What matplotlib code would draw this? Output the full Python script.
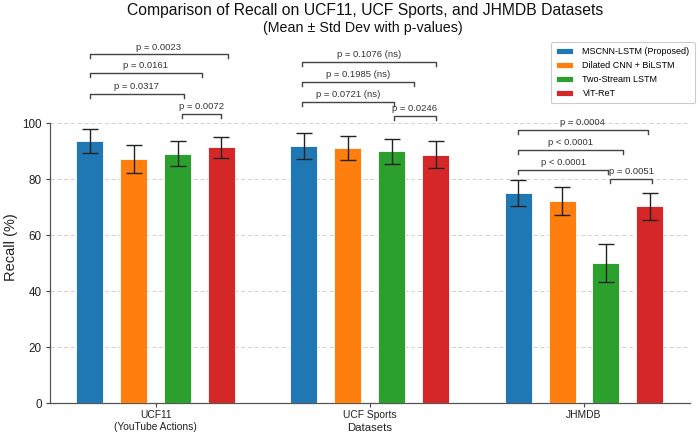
import matplotlib
matplotlib.use("Agg")
import matplotlib.pyplot as plt
import numpy as np

plt.rcParams['font.family'] = ['Liberation Sans', 'DejaVu Sans']

# ---------------- data ----------------
datasets = ["UCF11\n(YouTube Actions)", "UCF Sports", "JHMDB"]
models = ["MSCNN-LSTM (Proposed)", "Dilated CNN + BiLSTM", "Two-Stream LSTM", "ViT-ReT"]
colors = ["#1f77b4", "#ff7f0e", "#2ca02c", "#d62728"]

mscnn_mean = [93.7, 92.0, 75.1]
dilated_mean = [87.2, 91.2, 72.4]
twostream_mean = [89.2, 90.0, 50.2]
vitret_mean = [91.4, 88.7, 70.3]

mscnn_std = [4.4, 4.7, 4.7]
dilated_std = [5.0, 4.2, 5.0]
twostream_std = [4.5, 4.5, 6.8]
vitret_std = [3.7, 4.8, 4.8]

# significance brackets: dataset index, start bar, end bar (bar slots), height, label
br_group = [0, 0, 0, 0, 1, 1, 1, 1, 2, 2, 2, 2]
br_start = [0, 0, 0, 2.1, -0.05, -0.05, -0.05, 2.05, 0, 0, 0, 2.1]
br_end = [2.15, 2.55, 3.15, 3.0, 2.05, 2.5, 3.0, 3.0, 2.05, 2.4, 2.95, 3.05]
br_height = [110.6, 118.0, 124.6, 103.4, 107.6, 114.8, 121.8, 102.6, 83.3, 90.4, 97.6, 80.0]
br_label = ["p = 0.0317", "p = 0.0161", "p = 0.0023", "p = 0.0072",
            "p = 0.0721 (ns)", "p = 0.1985 (ns)", "p = 0.1076 (ns)", "p = 0.0246",
            "p < 0.0001", "p < 0.0001", "p = 0.0004", "p = 0.0051"]

means = [mscnn_mean, dilated_mean, twostream_mean, vitret_mean]
stds = [mscnn_std, dilated_std, twostream_std, vitret_std]

# ---------------- figure ----------------
fig = plt.figure(figsize=(7.0, 4.36), dpi=100)
ax = fig.add_axes([50/700, 1-403.3/436, 640/700, 364/436])

x = np.arange(len(datasets))
slot = 0.205
width = 0.126

for i, (m, s) in enumerate(zip(means, stds)):
    pos = x + (i - 1.5) * slot
    ax.bar(pos, m, width, color=colors[i], label=models[i], edgecolor="white",
           linewidth=0.6, zorder=3)
    ax.errorbar(pos, m, yerr=s, fmt="none", ecolor="#222222", elinewidth=1.0,
                capsize=5.5, capthick=1.0, zorder=4)

tick_h = 1.4
for g, a, b, h, lab in zip(br_group, br_start, br_end, br_height, br_label):
    xa = x[g] + (a - 1.5) * slot
    xb = x[g] + (b - 1.5) * slot
    ax.plot([xa, xa, xb, xb], [h - tick_h, h, h, h - tick_h], color="#444444",
            lw=1.0, zorder=5, clip_on=False)
    ax.text((xa + xb) / 2, h + 1.0, lab, ha="center", va="bottom",
            fontsize=6.8, color="#333333", zorder=5)

ax.set_xlim(-0.493, 2.495)
ax.set_ylim(0, 130)
ax.set_yticks([0, 20, 40, 60, 80, 100])
ax.set_xticks(x)
ax.set_xticklabels(datasets, fontsize=7.4, color="#222222")
ax.tick_params(axis="x", length=3, pad=2, color="#444444")
ax.tick_params(axis="y", length=3, pad=3, labelsize=8.4, color="#444444", labelcolor="#222222")

ax.yaxis.grid(True, linestyle=(0, (4, 3)), color="#d0d0d0", linewidth=0.7, zorder=0)
ax.set_axisbelow(True)
for side in ["top", "right"]:
    ax.spines[side].set_visible(False)
ax.spines["left"].set_bounds(0, 100)
ax.spines["left"].set_color("#555555")
ax.spines["bottom"].set_color("#555555")
ax.spines["left"].set_linewidth(0.9)
ax.spines["bottom"].set_linewidth(0.9)

ax.set_ylabel("Recall (%)", fontsize=10.5, color="#222222")
ax.yaxis.set_label_coords(-0.05, 0.43)
ax.set_xlabel("Datasets", fontsize=8.2, color="#222222")
ax.xaxis.set_label_coords(0.5, -0.055)

fig.text(365/700, 1 - 10.5/436, "Comparison of Recall on UCF11, UCF Sports, and JHMDB Datasets",
         ha="center", va="center", fontsize=11.3, color="#111111")
fig.text(363/700, 1 - 28/436, "(Mean \u00b1 Std Dev with p-values)",
         ha="center", va="center", fontsize=10.3, color="#111111")

leg = ax.legend(loc="upper right", bbox_to_anchor=(695/700, 1 - 41.7/436),
                bbox_transform=fig.transFigure, borderaxespad=0, fontsize=6.5,
                frameon=True, fancybox=True, edgecolor="#cccccc", framealpha=1.0,
                handlelength=1.9, handleheight=0.75, labelspacing=0.55,
                borderpad=0.6, handletextpad=1.0)
leg.get_frame().set_linewidth(0.8)

fig.savefig("out.png", dpi=100)
